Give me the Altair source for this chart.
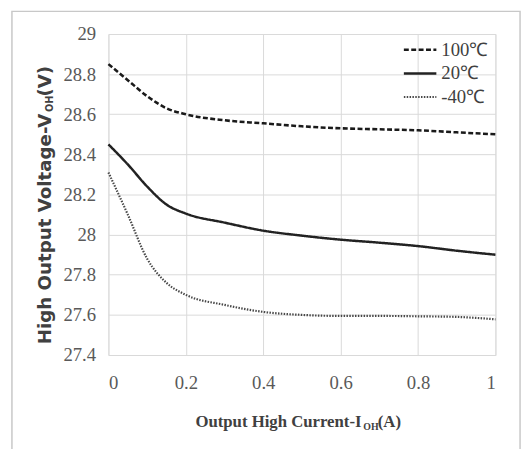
import altair as alt
import pandas as pd

# ---- data ----
current = [0, 0.05, 0.1, 0.15, 0.2, 0.3, 0.4, 0.5, 0.6, 0.7, 0.8, 0.9, 1.0]
v_100 = [28.85, 28.77, 28.69, 28.63, 28.60, 28.57, 28.555, 28.54, 28.53, 28.525, 28.52, 28.51, 28.50]
v_20 = [28.45, 28.35, 28.24, 28.15, 28.105, 28.06, 28.02, 27.995, 27.975, 27.96, 27.943, 27.92, 27.90]
v_m40 = [28.31, 28.10, 27.88, 27.76, 27.70, 27.65, 27.615, 27.60, 27.595, 27.595, 27.593, 27.59, 27.578]
series = ["100℃", "20℃", "-40℃"]
x_ticks = [0, 0.2, 0.4, 0.6, 0.8, 1]
y_ticks = [27.4, 27.6, 27.8, 28.0, 28.2, 28.4, 28.6, 28.8, 29.0]

rows = []
for name, vals in zip(series, [v_100, v_20, v_m40]):
    for x, v in zip(current, vals):
        rows.append({"I": x, "V": v, "T": name})
df = pd.DataFrame(rows)

W, H = 393, 326
SERIF = "Liberation Serif"
SANS = "DejaVu Sans"
TXT = "#404040"

styles = {
    "100℃": dict(color="#1a1a1a", dash=[5, 2.5], width=2.6),
    "20℃": dict(color="#222222", dash=[1, 0], width=2.5),
    "-40℃": dict(color="#484848", dash=[1.5, 1.4], width=2.2),
}

x_enc = alt.X("I:Q", scale=alt.Scale(domain=[0, 1], nice=False),
              axis=alt.Axis(values=x_ticks, title="", labelFont=SERIF, labelFontSize=19,
                            labelColor="#595959", labelPadding=19, grid=True, gridColor="#d9d9d9",
                            domain=False, ticks=False, labelExpr="datum.value"))
y_enc = alt.Y("V:Q", scale=alt.Scale(domain=[27.4, 29.0], nice=False, zero=False),
              axis=alt.Axis(values=y_ticks, title="", labelFont=SERIF, labelFontSize=19,
                            labelColor="#595959", labelPadding=13, grid=True, gridColor="#d9d9d9",
                            domain=False, ticks=False, labelExpr="datum.value"))

layers = []
for name in series:
    s = styles[name]
    layers.append(
        alt.Chart(df).transform_filter(alt.datum.T == name)
        .mark_line(interpolate="monotone", color=s["color"], strokeDash=s["dash"], strokeWidth=s["width"])
        .encode(x=x_enc, y=y_enc)
    )

one = alt.Data(values=[{"a": 1}])

# legend (manual, inside top-right)
for i, name in enumerate(series):
    s = styles[name]
    yy = 16 + 24 * i
    layers.append(
        alt.Chart(one).mark_rule(color=s["color"], strokeDash=s["dash"], strokeWidth=s["width"])
        .encode(x=alt.value(300), x2=alt.value(333), y=alt.value(yy))
    )
    layers.append(
        alt.Chart(one).mark_text(align="left", baseline="middle", font=SERIF, fontSize=19, color=TXT)
        .encode(x=alt.value(338), y=alt.value(yy), text=alt.value(name))
    )

# x axis title with subscript
layers.append(alt.Chart(one).mark_text(align="right", baseline="alphabetic", font=SERIF,
                                       fontSize=17, fontWeight="bold", color=TXT)
              .encode(x=alt.value(257), y=alt.value(399), text=alt.value("Output High Current-I")))
layers.append(alt.Chart(one).mark_text(align="left", baseline="alphabetic", font=SERIF,
                                       fontSize=10, fontWeight="bold", color=TXT)
              .encode(x=alt.value(258.8), y=alt.value(402), text=alt.value("OH")))
layers.append(alt.Chart(one).mark_text(align="left", baseline="alphabetic", font=SERIF,
                                       fontSize=17, fontWeight="bold", color=TXT)
              .encode(x=alt.value(273.5), y=alt.value(399), text=alt.value("(A)")))

# y axis title with subscript (rotated)
layers.append(alt.Chart(one).mark_text(align="right", baseline="middle", angle=270, font=SANS,
                                       fontSize=18.5, fontWeight="bold", color=TXT)
              .encode(x=alt.value(-64.5), y=alt.value(81), text=alt.value("High Output Voltage-V")))
layers.append(alt.Chart(one).mark_text(align="left", baseline="middle", angle=270, font=SANS,
                                       fontSize=10, fontWeight="bold", color=TXT)
              .encode(x=alt.value(-59.5), y=alt.value(79.3), text=alt.value("OH")))
layers.append(alt.Chart(one).mark_text(align="left", baseline="middle", angle=270, font=SANS,
                                       fontSize=18.5, fontWeight="bold", color=TXT)
              .encode(x=alt.value(-64.5), y=alt.value(63.5), text=alt.value("(V)")))

# outer chart frame
layers.append(alt.Chart(one).mark_rect(fill="transparent", stroke="#c8c8c8", strokeWidth=1.5)
              .encode(x=alt.value(-98), x2=alt.value(418), y=alt.value(-23), y2=alt.value(440)))

chart = alt.layer(*layers).properties(
    width=W, height=H,
    autosize=alt.AutoSizeParams(type="none"),
    padding={"left": 102, "top": 23, "right": 29, "bottom": 92},
).configure_view(stroke=None).configure(background="white")

chart.save("out.html", embed_options={"renderer": "svg", "actions": False})
